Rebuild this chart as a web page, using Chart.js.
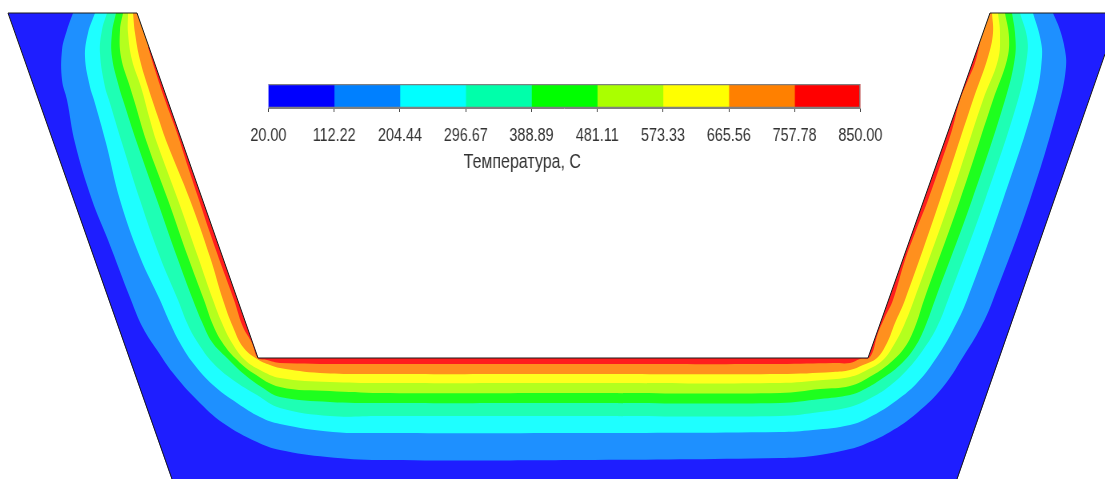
<!DOCTYPE html>
<html>
<head>
<meta charset="utf-8">
<script src="https://cdn.jsdelivr.net/npm/chart.js@4"></script>
<style>
html, body { margin: 0; padding: 0; background: #fff; overflow: hidden; }
#section { position: absolute; left: 0; top: 0; }
/* narrow drawing lettering: squeeze the whole colour bar canvas */
#bar { position: absolute; left: 240px; top: 74px; transform-origin: 0 0; transform: scaleX(0.8); }
</style>
</head>
<body>
<canvas id="section" width="1105" height="479"></canvas>
<canvas id="bar" width="816" height="100"></canvas>
<script>
// temperature levels of the colour bar
var levels = [20, 112.22, 204.44, 296.67, 388.89, 481.11, 573.33, 665.56, 757.78, 850];
var barColors = ['#0000ff', '#0080ff', '#00ffff', '#00ffaa', '#00ff00', '#aaff00', '#ffff00', '#ff8000', '#ff0000'];
var bandColors = ['#1e1eff', '#1e90ff', '#1effff', '#1effb4', '#1eff1e', '#b4ff1e', '#ffff1e', '#ff901e', '#ff1e1e'];
var barTitle = 'Температура, С';

// section outline, in section units
var body = [[8,13],[1105,13],[1105,54],[957,480],[172,480]];
var hollow = [[137,13],[258,358],[868,358],[990,13]];
var edgeLeft = [[137,13],[8,13],[172,479]];
var edgeTopRight = [[990,13],[1105,13]];
var edgeRight = [[1105,54],[957,479]];

// isotherms
var iso112 = [[73,13],[67,30],[62,50],[62,80],[67,100],[75,143],[92,200],[108,240],[131,300],[143,328],[157,350],[173,373],[197,400],[223,423],[257,442],[280,450],[327,457],[380,460],[580,460],[780,458],[813,456],[850,449],[863,445],[890,432],[917,413],[943,387],[963,357],[981,327],[993,300],[1030,200],[1060,100],[1066,67],[1065,50],[1060,30],[1053,13]];
var iso204 = [[95,13],[88,33],[85,57],[90,87],[94,100],[106,143],[120,200],[140,257],[160,300],[170,323],[180,343],[193,363],[213,385],[237,403],[260,417],[280,424],[333,432],[380,433],[580,433],[780,432],[813,430],[850,425],[870,417],[893,403],[917,383],[937,357],[953,330],[967,300],[1003,200],[1035,100],[1042,57],[1040,37],[1033,13]];
var iso296 = [[107,13],[102,30],[100,53],[105,87],[109,100],[122,143],[140,200],[160,257],[178,300],[188,325],[198,343],[213,363],[233,380],[257,395],[280,408],[330,416],[380,416],[580,416],[780,416],[820,412],[850,407],[867,400],[887,388],[907,370],[923,350],[937,327],[948,300],[985,200],[1018,100],[1027,57],[1027,37],[1020,13]];
var iso388 = [[116,13],[112,33],[112,57],[119,87],[123,100],[137,143],[157,200],[177,257],[193,300],[202,322],[212,342],[227,358],[245,375],[263,388],[280,397],[330,402],[380,403],[580,403],[780,403],[820,399],[850,395],[863,390],[880,380],[900,365],[915,347],[925,327],[935,300],[972,200],[1005,100],[1015,57],[1015,33],[1012,13]];
var iso481 = [[123,13],[120,30],[121,57],[130,87],[134,100],[147,143],[168,200],[188,257],[204,300],[213,325],[222,342],[235,358],[253,373],[280,387],[330,391],[380,393],[580,393],[780,393],[820,389],[850,386],[873,375],[890,363],[905,347],[915,327],[924,300],[960,200],[993,100],[1007,60],[1009,37],[1005,13]];
var iso573 = [[128,13],[128,33],[132,60],[141,87],[150,120],[157,143],[178,200],[198,257],[213,300],[222,323],[232,343],[245,360],[260,370],[280,378],[330,382],[380,383],[580,383],[780,383],[823,380],[850,377],[867,370],[883,360],[895,343],[905,323],[914,300],[950,200],[983,100],[998,60],[1000,33],[998,13]];
var iso665 = [[133,13],[135,33],[140,60],[148,87],[159,120],[167,143],[190,200],[210,257],[223,300],[233,327],[243,347],[257,359],[270,365],[280,368],[320,373],[380,374],[580,374],[780,374],[833,372],[850,370],[863,365],[877,358],[887,343],[895,323],[905,300],[940,200],[973,100],[988,57],[993,33],[992,13]];
var iso757 = [[148,47],[155,70],[165,100],[177,133],[188,167],[199,200],[210,233],[222,267],[234,300],[243,327],[252,343],[258,358],[267,360],[280,363],[380,364],[580,364],[780,364],[833,363],[850,363],[860,359],[870,357],[878,333],[885,317],[893,300],[905,260],[915,233],[928,200],[942,160],[952,130],[960,100],[968,80],[975,63],[980,43]];
var isotherms = [iso112, iso204, iso296, iso388, iso481, iso573, iso665, iso757];

function toPoints(list) {
    return list.map(function(p) { return {x: p[0], y: p[1]}; });
}

function polygon(list, color, tension) {
    return {
        data: toPoints(list),
        showLine: true,
        fill: 'shape',
        backgroundColor: color,
        borderWidth: 0,
        pointRadius: 0,
        tension: tension
    };
}

function edge(list) {
    return {
        data: toPoints(list),
        showLine: true,
        fill: false,
        borderColor: '#1a1a1a',
        borderWidth: 1,
        pointRadius: 0
    };
}

var sectionSets = [polygon(body, bandColors[0], 0)];
isotherms.forEach(function(iso, i) {
    sectionSets.push(polygon(iso, bandColors[i + 1], 0.4));
});
sectionSets.push(polygon(hollow, '#ffffff', 0));
sectionSets.push(edge(hollow));
sectionSets.push(edge(edgeLeft));
sectionSets.push(edge(edgeTopRight));
sectionSets.push(edge(edgeRight));
// painted back to front
sectionSets.forEach(function(d, i) { d.order = sectionSets.length - i; });

new Chart(document.getElementById('section').getContext('2d'), {
    type: 'scatter',
    data: { datasets: sectionSets },
    options: {
        responsive: false,
        animation: false,
        devicePixelRatio: 1,
        layout: { padding: 0 },
        plugins: { legend: { display: false }, tooltip: { enabled: false } },
        scales: {
            x: { type: 'linear', min: 0, max: 1105, display: false },
            y: { type: 'linear', min: 0, max: 479, reverse: true, display: false }
        }
    }
});

var barSets = barColors.map(function(color, i) {
    return {
        data: [[levels[i], levels[i + 1]]],
        backgroundColor: color,
        borderWidth: 0,
        barPercentage: 1,
        categoryPercentage: 1,
        grouped: false,
        order: 2
    };
});
// thin grey frame around the bar
barSets.push({
    data: [[levels[0], levels[levels.length - 1]]],
    backgroundColor: 'rgba(0,0,0,0)',
    borderColor: '#808080',
    borderWidth: 1,
    barPercentage: 1,
    categoryPercentage: 1,
    grouped: false,
    order: 1
});

// the caption in the reference sits left of the bar centre, so it is drawn here
var barCaption = {
    id: 'barCaption',
    afterDraw: function(chart) {
        var ctx = chart.ctx;
        var x = chart.scales.x;
        ctx.save();
        ctx.font = '20px "Liberation Sans"';
        ctx.fillStyle = '#333333';
        ctx.textAlign = 'center';
        ctx.textBaseline = 'middle';
        ctx.fillText(barTitle, x.getPixelForValue(376), 88);
        ctx.restore();
    }
};

new Chart(document.getElementById('bar').getContext('2d'), {
    type: 'bar',
    data: { labels: [''], datasets: barSets },
    plugins: [barCaption],
    options: {
        indexAxis: 'y',
        responsive: false,
        animation: false,
        devicePixelRatio: 1,
        layout: { padding: { left: 0, right: 0, top: 10, bottom: 0 } },
        plugins: { legend: { display: false }, tooltip: { enabled: false } },
        scales: {
            y: { display: false },
            x: {
                type: 'linear',
                min: levels[0],
                max: levels[levels.length - 1],
                afterBuildTicks: function(scale) {
                    scale.ticks = levels.map(function(v) { return {value: v}; });
                },
                afterFit: function(scale) { scale.height = 66; },
                grid: { drawOnChartArea: false, tickLength: 4, color: '#333333' },
                border: { color: '#808080' },
                ticks: {
                    autoSkip: false,
                    maxRotation: 0,
                    padding: 13,
                    color: '#333333',
                    font: { family: 'Liberation Sans', size: 18 },
                    callback: function(v) { return v.toFixed(2); }
                }
            }
        }
    }
});
</script>
</body>
</html>
